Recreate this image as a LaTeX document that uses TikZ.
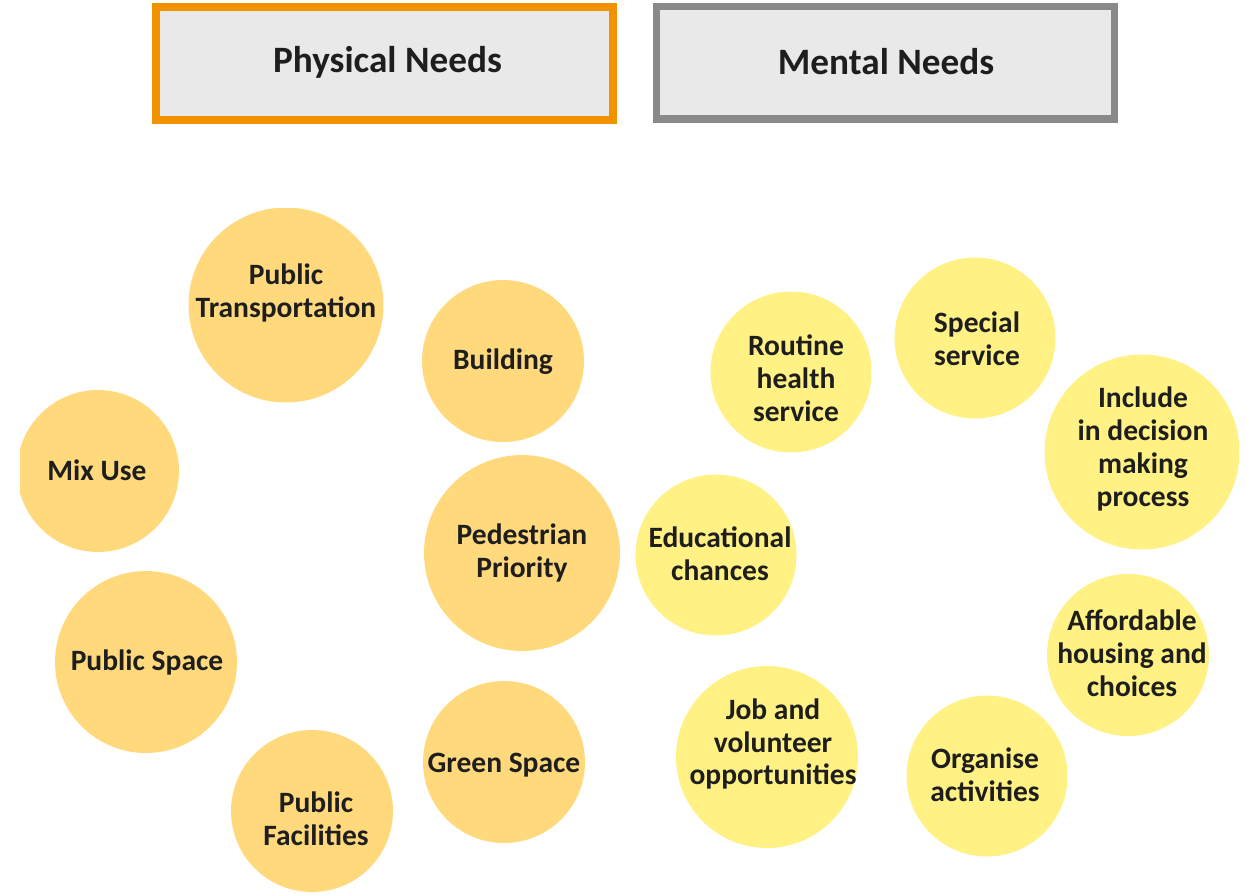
\documentclass[tikz,border=0pt]{standalone}
\usepackage{fontspec}
\setmainfont{Carlito}
\definecolor{physorange}{HTML}{F39200}
\definecolor{mentgrey}{HTML}{898989}
\definecolor{headfill}{HTML}{E9E9E9}
\definecolor{physfill}{HTML}{FFD97C}
\definecolor{mentfill}{HTML}{FFF183}
\definecolor{needtext}{HTML}{1E1E1E}

\tikzset{
  header/.style={draw, line width=4.3pt, fill=headfill},
  headtext/.style={text=needtext, font=\bfseries\fontsize{21.2}{25}\selectfont},
  need/.style={circle, inner sep=0pt},
  physneed/.style={need, fill=physfill},
  mentneed/.style={need, fill=mentfill},
  needtext/.style={align=center, text=needtext, inner sep=0pt, yshift=-0.04cm,
    font=\bfseries\fontsize{16.8}{18.7}\selectfont}
}

\begin{document}
\begin{tikzpicture}[x=0.02cm, y=-0.02cm]
        \useasboundingbox (0,0) rectangle (1256,894);

        % headers
        \draw[header, draw=physorange] (155.75,6.75) rectangle (613.25,120.25);
        \node[headtext] (physical) at (387.5,62) {Physical Needs};
        \draw[header, draw=mentgrey] (656.5,6.5) rectangle (1114.3,118.8);
        \node[headtext] (mental) at (886,62) {Mental Needs};

        % physical needs (cut at the left and top edge)
        \begin{scope}
        \clip (20,208) rectangle (1256,894);
        \node[physneed, minimum size=3.9cm] (transport) at (286,305) {};
        \node[physneed, minimum size=3.24cm] (mixuse) at (98,471) {};
        \end{scope}
        \node[needtext] (transport-t) at (286,291) {Public\\Transportation};
        \node[needtext] (mixuse-t) at (97,468) {Mix Use};
        \node[physneed, minimum size=3.24cm] (building) at (503,361) {};
        \node[needtext] (building-t) at (503,360) {Building};
        \node[physneed, minimum size=3.92cm] (pedestrian) at (522,553) {};
        \node[needtext] (pedestrian-t) at (522,551) {Pedestrian\\Priority};
        \node[physneed, minimum size=3.64cm] (pubspace) at (146,662) {};
        \node[needtext] (pubspace-t) at (147,660) {Public Space};
        \node[physneed, minimum size=3.24cm] (facilities) at (312,811) {};
        \node[needtext] (facilities-t) at (316,817) {Public\\Facilities};
        \node[physneed, minimum size=3.24cm] (green) at (504,762) {};
        \node[needtext] (green-t) at (504,763) {Green Space};

        % mental needs
        \node[mentneed, minimum size=3.22cm] (routine) at (791,372) {};
        \node[needtext] (routine-t) at (796,376) {Routine\\health\\service};
        \node[mentneed, minimum size=3.22cm] (special) at (975,338) {};
        \node[needtext] (special-t) at (977,337) {Special\\service};
        \node[mentneed, minimum size=3.9cm] (decision) at (1142,452) {};
        \node[needtext] (decision-t) at (1143,447) {Include\\in decision\\making\\process};
        \node[mentneed, minimum size=3.22cm] (education) at (716,555) {};
        \node[needtext] (education-t) at (720,552) {Educational\\chances};
        \node[mentneed, minimum size=3.24cm] (housing) at (1128,655) {};
        \node[needtext] (housing-t) at (1132,651) {Affordable\\housing and\\choices};
        \node[mentneed, minimum size=3.64cm] (job) at (767,757) {};
        \node[needtext] (job-t) at (773,742) {Job and\\volunteer\\opportunities};
        \node[mentneed, minimum size=3.22cm] (organise) at (987,776) {};
        \node[needtext] (organise-t) at (985,773) {Organise\\activities};
    \end{tikzpicture}
\end{document}
